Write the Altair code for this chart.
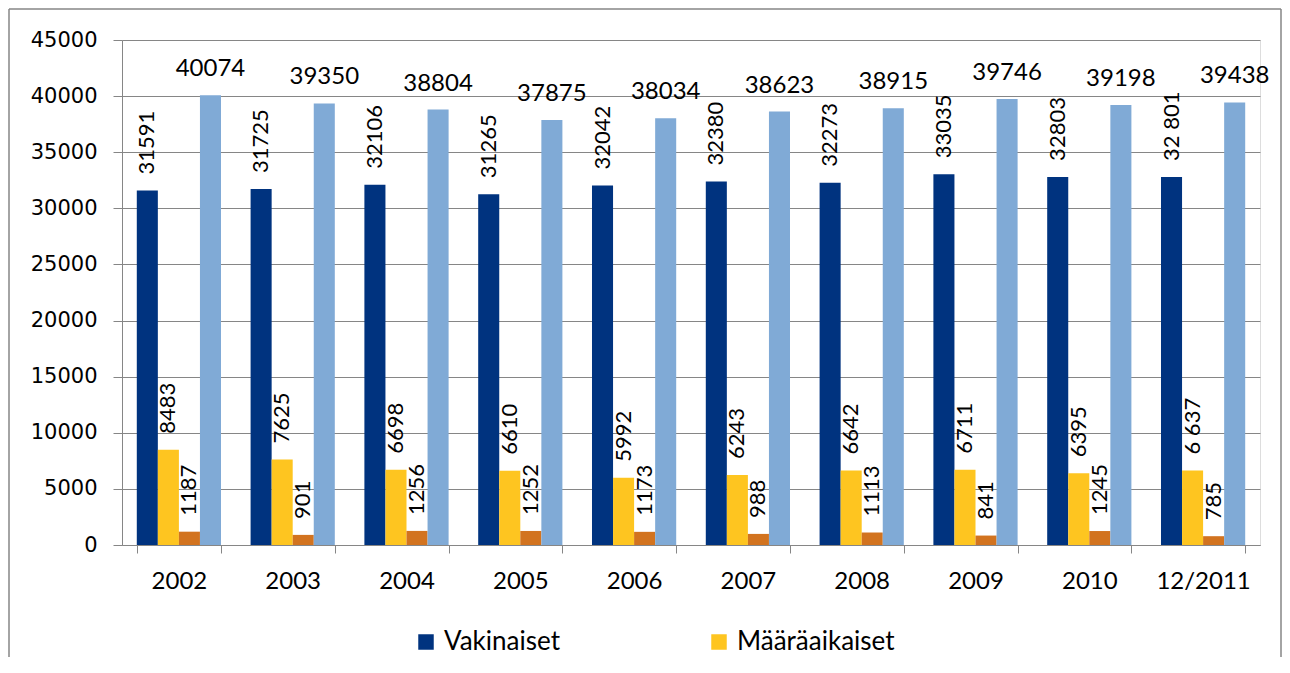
import altair as alt
import pandas as pd

categories = ["2002", "2003", "2004", "2005", "2006", "2007", "2008", "2009", "2010", "12/2011"]
series_names = ["Vakinaiset", "Määräaikaiset", "Muut", "Yhteensä"]
vakinaiset = [31591, 31725, 32106, 31265, 32042, 32380, 32273, 33035, 32803, 32801]
maaraaikaiset = [8483, 7625, 6698, 6610, 5992, 6243, 6642, 6711, 6395, 6637]
muut = [1187, 901, 1256, 1252, 1173, 988, 1113, 841, 1245, 785]
yhteensa = [40074, 39350, 38804, 37875, 38034, 38623, 38915, 39746, 39198, 39438]
vak_labels = ["31591", "31725", "32106", "31265", "32042", "32380", "32273", "33035", "32803", "32 801"]
maa_labels = ["8483", "7625", "6698", "6610", "5992", "6243", "6642", "6711", "6395", "6 637"]
muut_labels = ["1187", "901", "1256", "1252", "1173", "988", "1113", "841", "1245", "785"]
yht_labels = ["40074", "39350", "38804", "37875", "38034", "38623", "38915", "39746", "39198", "39438"]
colors = ["#00337F", "#FEC520", "#D2731F", "#80AAD6"]

rows = []
for vals, labs, name in [(vakinaiset, vak_labels, series_names[0]),
                         (maaraaikaiset, maa_labels, series_names[1]),
                         (muut, muut_labels, series_names[2]),
                         (yhteensa, yht_labels, series_names[3])]:
    for c, v, l in zip(categories, vals, labs):
        rows.append({"cat": c, "series": name, "value": v, "label": l})
df = pd.DataFrame(rows)

W, H = 1138, 505
PL, PT, PR, PB = 114, 32, 22, 112

x = alt.X("cat:N", sort=categories, title=None,
          scale=alt.Scale(paddingInner=0.26, paddingOuter=0.13),
          axis=alt.Axis(labelAngle=0, tickBand="extent", domainColor="#868686",
                        tickColor="#868686", tickSize=8, labelPadding=16,
                        labelFont="Lato", labelFontSize=24, labelColor="#000000",
                        grid=False))
xo = alt.XOffset("series:N", sort=series_names, scale=alt.Scale(paddingInner=0, paddingOuter=0))
y = alt.Y("value:Q", title=None,
          scale=alt.Scale(domain=[0, 45000], nice=False),
          axis=alt.Axis(values=list(range(0, 45001, 5000)), format="d", gridColor="#868686",
                        domainColor="#868686", tickColor="#868686", tickSize=9,
                        labelPadding=16, labelFont="DejaVu Sans", labelFontSize=21,
                        labelColor="#000000"))

base = alt.Chart(df)

bars = base.mark_bar().encode(
    x=x, xOffset=xo, y=y,
    color=alt.Color("series:N", sort=series_names,
                    scale=alt.Scale(domain=series_names, range=colors),
                    legend=alt.Legend(title=None, orient="none", direction="horizontal",
                                      legendX=291, legendY=589, values=series_names[:2],
                                      symbolType="square", symbolSize=240, symbolStrokeWidth=0,
                                      labelFont="Lato", labelFontSize=26, labelColor="#000000",
                                      columnPadding=146, labelOffset=5)),
)

rot = base.transform_filter(alt.datum.series != "Yhteensä").mark_text(
    angle=270, align="left", baseline="middle", font="Lato", fontSize=22, color="#000000"
).encode(x=x, xOffset=xo, y=y, yOffset=alt.value(-16), text="label:N")

horiz = base.transform_filter(alt.datum.series == "Yhteensä").mark_text(
    align="center", baseline="alphabetic", font="Lato", fontSize=24, color="#000000"
).encode(x=x, xOffset=xo, y=y, yOffset=alt.value(-19), text="label:N")

frame_df = pd.DataFrame({"k": [0]})
left_line = alt.Chart(frame_df).mark_rule(stroke="#868686", strokeWidth=1.5).encode(
    x=alt.value(-PL + 1), y=alt.value(-PT + 1), y2=alt.value(H + PB))
right_line = alt.Chart(frame_df).mark_rule(stroke="#868686", strokeWidth=1.5).encode(
    x=alt.value(W + PR - 1), y=alt.value(-PT + 1), y2=alt.value(H + PB))
top_line = alt.Chart(frame_df).mark_rule(stroke="#868686", strokeWidth=1.5).encode(
    x=alt.value(-PL + 1), x2=alt.value(W + PR - 1), y=alt.value(-PT + 1))

chart = alt.layer(left_line, right_line, top_line, bars, rot, horiz).properties(
    width=W, height=H,
    autosize=alt.AutoSizeParams(type="none"),
    padding={"left": PL, "top": PT, "right": PR, "bottom": PB},
).configure_view(stroke=None).configure(background="white")

chart.save("out.html", embed_options={"renderer": "svg", "actions": False})
